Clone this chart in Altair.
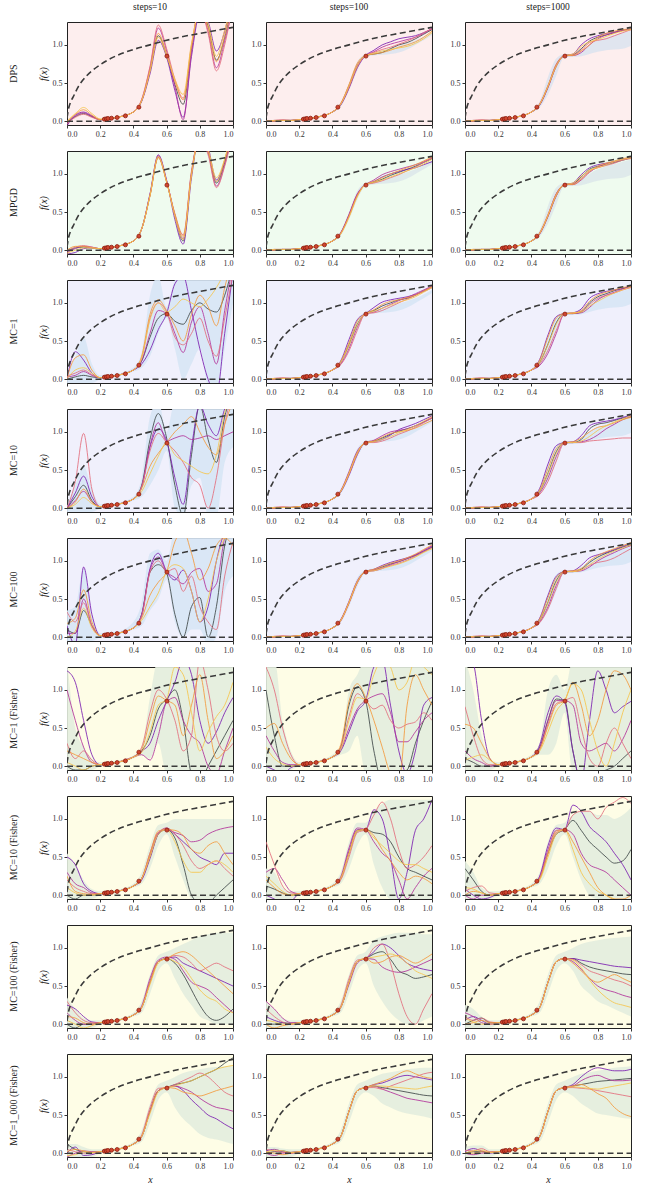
import altair as alt
import pandas as pd

FONT = "Liberation Serif"
W, H = 166, 103

# x positions at which every sample curve is read (values below are in hundredths)
X_GRID = [0, .05, .1, .15, .2, .3, .4, .45, .5, .55, .6, .65, .7, .75, .8, .85, .9, .95, 1.0]

OBS_X = [0.225, 0.237, 0.247, 0.268, 0.302, 0.352, 0.433, 0.602]
OBS_Y = [0.026, 0.031, 0.035, 0.039, 0.048, 0.07, 0.184, 0.853]

PRIOR_X = [0, .01, .02, .04, .07, .1, .15, .2, .3, .4, .5, .6, .7, .8, .9, 1.0]
PRIOR_Y = [0.04, 0.17, 0.24, 0.33, 0.46, 0.55, 0.66, 0.74, 0.86, 0.94, 1.0, 1.06, 1.11, 1.15, 1.19, 1.23]
ZERO_X = [0, 1]
ZERO_Y = [0, 0]

ROW_LABELS = ["DPS", "MPGD", "MC=1", "MC=10", "MC=100", "MC=1 (Fisher)",
              "MC=10 (Fisher)", "MC=100 (Fisher)", "MC=1_000 (Fisher)"]
COL_TITLES = ["steps=10", "steps=100", "steps=1000"]
ROW_BG = ["#fdeeee", "#effbef", "#f0f0fc", "#f0f0fc", "#f0f0fc",
          "#fefde6", "#fefde6", "#fefde6", "#fefde6"]
ROW_BAND = ["#dde3ee", "#dde8ea", "#d7e6f5", "#d7e6f5", "#d7e6f5",
            "#e3edde", "#e3edde", "#e3edde", "#e3edde"]
LINE_NAMES = ["L0", "L1", "L2", "L3", "L4", "L5"]
LINE_COLORS = ["#3f4848", "#7b1fb0", "#b2329a", "#e36d7d", "#f39a3d", "#f6c64e"]

# ---------------- sample curves (hundredths) ----------------
DPS_10 = [
    [-2, 6, 10, 6, 2, 5, 12, 27, 66, 112, 86, 48, 22, 95, 145, 125, 80, 110, 160],
    [-6, 8, 12, 7, 2, 5, 12, 26, 62, 106, 84, 40, 5, 85, 140, 130, 92, 118, 165],
    [-4, 7, 11, 6, 2, 5, 12, 28, 70, 122, 92, 45, 2, 90, 150, 118, 70, 105, 150],
    [-3, 5, 9, 5, 2, 5, 12, 29, 72, 126, 95, 55, 30, 100, 148, 115, 66, 100, 155],
    [-1, 9, 15, 8, 2, 5, 12, 27, 67, 115, 88, 52, 28, 98, 146, 122, 78, 112, 160],
    [0, 10, 18, 10, 3, 5, 12, 27, 65, 110, 86, 55, 35, 102, 144, 128, 85, 120, 162]]
DPS_100 = [
    [0, 0, 1, 1, 2, 5, 12, 22, 45, 72, 86, 88, 90, 95, 100, 103, 108, 114, 120],
    [0, 1, 1, 1, 2, 5, 12, 21, 43, 70, 86, 93, 100, 104, 108, 110, 112, 116, 121],
    [0, 0, 1, 1, 2, 5, 12, 23, 47, 74, 86, 91, 97, 101, 104, 107, 110, 115, 122],
    [0, 1, 2, 1, 2, 5, 12, 22, 44, 71, 86, 90, 94, 97, 101, 105, 110, 116, 121],
    [0, 0, 1, 1, 2, 5, 12, 23, 48, 76, 86, 88, 90, 93, 97, 100, 104, 110, 118],
    [0, 1, 1, 1, 2, 5, 12, 22, 46, 73, 86, 89, 92, 94, 96, 98, 102, 108, 116]]
DPS_1000 = [
    [0, 0, 1, 1, 2, 5, 12, 22, 46, 74, 86, 87, 95, 105, 110, 113, 116, 119, 121],
    [0, 1, 1, 1, 2, 5, 12, 21, 44, 72, 86, 88, 100, 108, 112, 115, 117, 119, 121],
    [0, 0, 1, 1, 2, 5, 12, 22, 45, 73, 86, 86, 90, 100, 108, 113, 116, 119, 120],
    [0, 1, 2, 1, 2, 5, 12, 23, 47, 75, 86, 87, 93, 103, 106, 108, 112, 116, 120],
    [0, 0, 1, 1, 2, 5, 12, 22, 45, 72, 86, 86, 92, 100, 110, 115, 118, 120, 121],
    [0, 1, 1, 1, 2, 5, 12, 22, 46, 73, 86, 88, 98, 104, 107, 111, 115, 118, 120]]
MPGD_10 = [
    [-2, 3, 4, 3, 2, 5, 12, 28, 72, 122, 90, 45, 12, 100, 150, 130, 88, 115, 160],
    [-5, -3, 2, 3, 2, 5, 12, 28, 74, 125, 92, 40, 8, 95, 152, 135, 92, 118, 165],
    [-3, 2, 5, 4, 2, 5, 12, 28, 73, 124, 91, 46, 15, 102, 150, 128, 84, 112, 158],
    [-1, 4, 6, 4, 2, 5, 12, 28, 72, 122, 90, 48, 20, 104, 148, 125, 82, 110, 155],
    [0, 5, 5, 3, 2, 5, 12, 28, 71, 121, 89, 47, 18, 100, 149, 130, 90, 118, 162],
    [-4, 0, 3, 3, 2, 5, 12, 28, 72, 123, 90, 44, 14, 98, 151, 132, 95, 120, 165]]
MPGD_100 = [
    [0, 0, 1, 1, 2, 5, 12, 22, 45, 72, 86, 89, 93, 98, 102, 106, 110, 115, 120],
    [0, 1, 1, 1, 2, 5, 12, 22, 46, 73, 86, 90, 96, 100, 103, 106, 108, 112, 116],
    [0, 0, 1, 1, 2, 5, 12, 23, 47, 74, 86, 92, 99, 103, 106, 109, 112, 116, 121],
    [0, 1, 1, 1, 2, 5, 12, 22, 44, 71, 86, 88, 91, 95, 99, 104, 109, 115, 121],
    [0, 0, 1, 1, 2, 5, 12, 22, 45, 72, 86, 90, 95, 100, 104, 108, 112, 117, 122],
    [0, 1, 1, 1, 2, 5, 12, 21, 43, 70, 86, 89, 92, 96, 100, 104, 108, 113, 119]]
MPGD_1000 = [
    [0, 0, 1, 1, 2, 5, 12, 22, 45, 72, 86, 87, 96, 106, 110, 112, 115, 118, 121],
    [0, 1, 1, 1, 2, 5, 12, 22, 46, 74, 86, 88, 99, 108, 112, 114, 116, 119, 122],
    [0, 0, 1, 1, 2, 5, 12, 21, 44, 71, 86, 86, 92, 102, 109, 113, 116, 119, 121],
    [0, 1, 1, 1, 2, 5, 12, 23, 47, 74, 86, 87, 94, 104, 108, 111, 114, 118, 120],
    [0, 0, 1, 1, 2, 5, 12, 22, 45, 73, 86, 86, 93, 103, 110, 114, 117, 120, 122],
    [0, 1, 1, 1, 2, 5, 12, 22, 46, 72, 86, 88, 97, 105, 108, 112, 116, 119, 121]]
MC1_10 = [
    [0, 3, 5, 3, 2, 5, 12, 24, 55, 80, 86, 76, 72, 90, 100, 92, 88, 110, 150],
    [0, 36, 25, 8, 2, 5, 12, 20, 38, 65, 86, 125, 135, 90, 40, 0, -20, 60, 140],
    [3, 5, 10, 5, 2, 5, 12, 24, 60, 90, 86, 60, 35, 75, 95, 60, 20, 90, 150],
    [4, 8, 12, 6, 2, 5, 12, 28, 80, 100, 88, 55, 45, 60, 80, 50, 30, 80, 140],
    [2, 28, 32, 12, 2, 5, 12, 30, 85, 104, 90, 70, 50, 85, 110, 95, 70, 120, 160],
    [0, 12, 15, 8, 2, 5, 12, 28, 78, 100, 88, 95, 105, 100, 95, 105, 120, 140, 160]]
MC1_100 = [
    [0, 0, 1, 1, 2, 5, 12, 22, 45, 72, 86, 90, 96, 100, 104, 106, 110, 116, 121],
    [0, 1, 1, 1, 2, 5, 12, 24, 52, 78, 86, 94, 101, 104, 106, 108, 111, 115, 120],
    [0, 0, 1, 1, 2, 5, 12, 20, 40, 68, 86, 88, 93, 98, 103, 107, 112, 117, 122],
    [0, 1, 2, 1, 2, 5, 12, 19, 37, 64, 86, 87, 90, 95, 100, 105, 110, 116, 121],
    [0, 0, 1, 1, 2, 5, 12, 23, 48, 76, 86, 91, 98, 102, 104, 107, 110, 115, 121],
    [0, 1, 1, 1, 2, 5, 12, 22, 44, 71, 86, 89, 93, 97, 101, 104, 108, 114, 120]]
MC1_1000 = [
    [0, 0, 1, 1, 2, 5, 12, 22, 46, 74, 86, 86, 88, 100, 108, 112, 116, 119, 122],
    [0, 1, 1, 1, 2, 5, 12, 26, 58, 82, 86, 87, 92, 106, 112, 115, 117, 119, 121],
    [0, 0, 1, 1, 2, 5, 12, 18, 34, 60, 86, 86, 87, 94, 104, 110, 114, 118, 121],
    [0, 1, 2, 1, 2, 5, 12, 20, 38, 64, 86, 87, 89, 98, 106, 110, 113, 117, 120],
    [0, 0, 1, 1, 2, 5, 12, 25, 55, 80, 86, 86, 90, 102, 110, 114, 117, 120, 122],
    [0, 1, 1, 1, 2, 5, 12, 22, 45, 72, 86, 87, 88, 96, 102, 108, 113, 117, 121]]
MC10_10 = [
    [0, 15, 30, 10, 2, 5, 12, 30, 90, 124, 92, 30, -10, 70, 135, 90, 60, 120, 150],
    [0, 20, 42, 15, 2, 5, 12, 28, 80, 104, 88, 40, 5, 80, 135, 110, 95, 130, 150],
    [0, 10, 22, 8, 2, 5, 12, 28, 82, 112, 88, 92, 95, 90, 92, 95, 90, 95, 100],
    [0, 35, 98, 25, 2, 5, 12, 28, 75, 98, 86, 75, 60, 40, 30, 0, 40, 110, 150],
    [0, 8, 25, 8, 2, 5, 12, 26, 55, 72, 86, 100, 110, 120, 100, 80, 70, 110, 140],
    [0, 5, 14, 6, 2, 5, 12, 22, 45, 68, 86, 70, 62, 55, 48, 45, 70, 125, 150]]
MC10_100 = [
    [0, 0, 1, 1, 2, 5, 12, 22, 46, 73, 86, 88, 92, 97, 101, 104, 108, 113, 118],
    [0, 1, 1, 1, 2, 5, 12, 21, 43, 70, 86, 87, 90, 96, 103, 107, 111, 116, 121],
    [0, 0, 1, 1, 2, 5, 12, 23, 48, 75, 86, 89, 95, 100, 102, 104, 108, 113, 119],
    [0, 1, 2, 1, 2, 5, 12, 22, 44, 71, 86, 86, 88, 92, 97, 101, 106, 112, 118],
    [0, 0, 1, 1, 2, 5, 12, 22, 45, 72, 86, 88, 93, 98, 100, 102, 105, 110, 115],
    [0, 1, 1, 1, 2, 5, 12, 22, 46, 73, 86, 87, 90, 94, 99, 103, 108, 114, 120]]
MC10_1000 = [
    [0, 0, 1, 1, 2, 5, 12, 22, 46, 74, 86, 86, 90, 104, 110, 112, 115, 118, 120],
    [0, 1, 1, 1, 2, 5, 12, 26, 58, 82, 86, 87, 95, 108, 112, 114, 116, 119, 122],
    [0, 0, 1, 1, 2, 5, 12, 20, 40, 68, 86, 86, 87, 90, 96, 104, 110, 116, 120],
    [0, 1, 2, 1, 2, 5, 12, 18, 35, 62, 86, 86, 86, 88, 89, 90, 91, 92, 92],
    [0, 0, 1, 1, 2, 5, 12, 24, 52, 78, 86, 87, 92, 100, 106, 108, 112, 116, 119],
    [0, 1, 1, 1, 2, 5, 12, 22, 45, 72, 86, 86, 88, 94, 102, 108, 113, 117, 121]]
MC100_10 = [
    [10, 5, 35, 15, 2, 5, 12, 30, 85, 95, 84, 30, 0, 40, 52, 0, 40, 120, 150],
    [15, -10, 92, 30, 2, 5, 12, 30, 90, 110, 86, 75, 88, 60, 20, 40, 100, 135, 140],
    [5, 5, 50, 15, 2, 5, 12, 28, 88, 105, 86, 78, 70, 85, 90, 60, 70, 130, 150],
    [33, 20, 45, 15, 2, 5, 12, 28, 85, 100, 86, 90, 60, 80, 40, 20, 10, 80, 125],
    [18, 25, 62, 20, 2, 5, 12, 25, 55, 72, 86, 125, 140, 110, 75, 90, 120, 130, 120],
    [0, 8, 38, 12, 2, 5, 12, 22, 40, 58, 86, 95, 90, 60, 20, 50, 100, 130, 140]]
MC100_100 = [
    [0, 0, 1, 1, 2, 5, 12, 22, 45, 72, 86, 88, 92, 96, 99, 103, 107, 112, 118],
    [0, 1, 1, 1, 2, 5, 12, 22, 46, 73, 86, 89, 94, 98, 101, 104, 108, 113, 119],
    [0, 0, 1, 1, 2, 5, 12, 23, 47, 74, 86, 87, 90, 95, 99, 103, 108, 114, 120],
    [0, 1, 2, 1, 2, 5, 12, 21, 44, 71, 86, 88, 91, 94, 97, 101, 106, 112, 117],
    [0, 0, 1, 1, 2, 5, 12, 22, 45, 72, 86, 89, 93, 97, 100, 104, 109, 115, 121],
    [0, 1, 1, 1, 2, 5, 12, 22, 46, 73, 86, 87, 90, 93, 96, 100, 105, 111, 116]]
MC100_1000 = [
    [0, 0, 1, 1, 2, 5, 12, 22, 46, 74, 86, 86, 89, 98, 105, 110, 114, 118, 121],
    [0, 1, 1, 1, 2, 5, 12, 25, 55, 80, 86, 87, 94, 104, 108, 111, 115, 119, 123],
    [0, 0, 1, 1, 2, 5, 12, 20, 40, 68, 86, 86, 87, 92, 100, 106, 111, 116, 120],
    [0, 1, 2, 1, 2, 5, 12, 19, 37, 64, 86, 86, 88, 94, 98, 100, 104, 110, 116],
    [0, 0, 1, 1, 2, 5, 12, 24, 52, 78, 86, 87, 90, 100, 107, 112, 116, 120, 124],
    [0, 1, 1, 1, 2, 5, 12, 22, 45, 72, 86, 86, 88, 95, 102, 108, 113, 117, 121]]
F1_10 = [
    [0, -5, -5, 0, 2, 5, 12, 20, 40, 75, 88, 100, 60, -10, -20, 0, 20, 40, 60],
    [125, 110, 60, 15, 2, 5, 12, 20, 30, 60, 85, 110, 140, 120, 60, 30, 45, 70, 90],
    [100, 60, 25, 5, 2, 5, 12, 15, 8, 40, 84, 90, 60, 40, 30, 0, -10, 20, 50],
    [30, 10, 20, 8, 2, 5, 12, 25, 70, 100, 88, 60, 20, 40, 140, 100, 40, 20, 30],
    [20, 15, 10, 5, 2, 5, 12, 22, 60, 92, 86, 80, 40, 80, 120, 60, 10, 20, 40],
    [5, 0, -5, 0, 2, 5, 12, 18, 45, 80, 88, 130, 120, 70, 20, 45, 65, 80, 110]]
F1_100 = [
    [100, 40, 0, 0, 2, 5, 12, 25, 80, 104, 86, 20, -20, -20, -10, -5, 30, 60, 85],
    [0, -5, -10, -2, 2, 5, 12, 20, 45, 72, 86, 130, 140, 80, 20, -10, 20, 80, 90],
    [40, 20, 5, 2, 2, 5, 12, 22, 50, 75, 86, 92, 95, 70, 32, 32, 45, 60, 70],
    [130, 100, 50, 15, 2, 5, 12, 25, 65, 95, 86, 75, 80, 60, 50, 55, 58, 70, 60],
    [50, 56, 30, 10, 2, 5, 12, 28, 85, 108, 90, 60, 25, -10, -20, 80, 120, 100, 80],
    [25, 10, 3, 0, 2, 5, 12, 22, 60, 90, 88, 120, 140, 130, 100, 110, 140, 130, 120]]
F1_1000 = [
    [10, 5, 0, 0, 2, 5, 12, 25, 60, 88, 86, 20, -20, -20, -10, -5, 0, 10, 20],
    [150, 135, 60, 10, 2, 5, 12, 28, 70, 92, 84, 20, -20, 60, 125, 100, 70, 78, 85],
    [20, 10, 5, 0, 2, 5, 12, 24, 60, 86, 86, 80, 30, 20, 25, 30, 20, 35, 60],
    [78, 40, 10, 2, 2, 5, 12, 22, 55, 82, 86, 90, 50, 10, 0, 30, 50, 30, 10],
    [55, 50, 30, 10, 2, 5, 12, 22, 52, 80, 86, 110, 80, 40, 60, 100, 125, 120, 100],
    [8, 12, 15, 8, 2, 5, 12, 20, 45, 72, 86, 108, 100, 60, 20, 0, 30, 70, 100]]
F10_10 = [
    [0, -5, 0, 0, 2, 5, 12, 22, 50, 80, 86, 75, 40, 0, -10, -10, 0, 10, 20],
    [50, 40, 15, 5, 2, 5, 12, 20, 48, 80, 88, 80, 70, 60, 50, 45, 40, 55, 55],
    [30, 15, 10, 3, 2, 5, 12, 22, 55, 82, 86, 82, 78, 70, 72, 80, 85, 88, 90],
    [20, 10, 5, 2, 2, 5, 12, 22, 52, 82, 88, 80, 65, 45, 35, 40, 45, 35, 25],
    [25, 5, 2, 1, 2, 5, 12, 22, 55, 84, 86, 85, 78, 60, 55, 65, 70, 55, 40],
    [10, 3, 0, 0, 2, 5, 12, 22, 50, 80, 86, 70, 45, 30, 30, 40, 45, 40, 30]]
F10_100 = [
    [12, 8, 3, 0, 2, 5, 12, 22, 55, 84, 86, 82, 80, 70, 50, 35, 30, 25, 20],
    [0, -5, -10, -8, 2, 5, 12, 22, 58, 86, 86, 112, 100, 50, -5, 30, 85, 100, 125],
    [30, 35, 20, 5, 2, 5, 12, 24, 62, 88, 86, 70, 55, 45, 20, -5, 10, 25, 35],
    [70, 40, 12, 3, 2, 5, 12, 20, 50, 82, 86, 105, 122, 100, 60, 35, 40, 50, 65],
    [20, 10, 2, 0, 2, 5, 12, 22, 55, 85, 86, 78, 60, 45, 30, 20, 25, 22, 15],
    [25, 15, 5, 0, 2, 5, 12, 22, 55, 84, 86, 75, 65, 55, 45, 40, 40, 35, 30]]
F10_1000 = [
    [35, 20, 5, 0, 2, 5, 12, 22, 55, 80, 86, 98, 85, 70, 60, 50, 42, 45, 60],
    [8, 0, -5, -3, 2, 5, 12, 25, 65, 88, 86, 118, 110, 90, 80, 70, 55, 40, 20],
    [0, -5, 0, 0, 2, 5, 12, 24, 60, 85, 86, 80, 55, 40, 35, 30, 20, 10, 0],
    [5, 10, 12, 3, 2, 5, 12, 22, 55, 82, 86, 105, 110, 110, 100, 115, 122, 128, 120],
    [0, 5, 3, 0, 2, 5, 12, 22, 55, 84, 86, 70, 50, 30, 10, 0, -5, -5, 0],
    [10, 8, 3, 0, 2, 5, 12, 20, 50, 80, 86, 60, 30, 15, 5, 0, -5, -10, -10]]
F100_10 = [
    [0, -5, 0, 0, 2, 5, 12, 22, 55, 82, 86, 80, 65, 45, 25, 10, 5, 10, 20],
    [25, 20, 10, 3, 2, 5, 12, 22, 55, 82, 86, 88, 80, 75, 70, 65, 60, 55, 50],
    [15, 5, 0, 0, 2, 5, 12, 24, 60, 84, 88, 85, 70, 55, 50, 45, 35, 25, 15],
    [30, 15, 5, 2, 2, 5, 12, 22, 55, 82, 86, 90, 88, 80, 70, 75, 80, 75, 70],
    [10, 8, 2, 0, 2, 5, 12, 22, 55, 82, 86, 92, 95, 90, 80, 70, 60, 50, 40],
    [5, 0, -5, -2, 2, 5, 12, 22, 52, 80, 86, 82, 75, 60, 45, 35, 30, 20, 15]]
F100_100 = [
    [0, 0, 2, 1, 2, 5, 12, 22, 55, 82, 86, 92, 95, 85, 70, 65, 60, 62, 65],
    [10, 5, 2, 0, 2, 5, 12, 22, 55, 82, 86, 95, 105, 100, 90, 80, 75, 72, 70],
    [30, 20, 8, 2, 2, 5, 12, 22, 52, 80, 86, 85, 75, 70, 68, 70, 75, 80, 85],
    [20, 10, 3, 0, 2, 5, 12, 24, 60, 84, 86, 100, 105, 80, 40, 10, 0, 20, 40],
    [0, -5, -2, 0, 2, 5, 12, 22, 55, 82, 86, 80, 82, 88, 90, 85, 80, 85, 92],
    [5, 3, 0, 0, 2, 5, 12, 22, 55, 82, 86, 88, 90, 92, 88, 80, 70, 65, 60]]
F100_1000 = [
    [0, 5, 8, 2, 2, 5, 12, 22, 55, 82, 86, 86, 80, 75, 72, 70, 68, 66, 65],
    [5, 10, 5, 0, 2, 5, 12, 22, 55, 82, 86, 86, 84, 82, 80, 78, 76, 75, 74],
    [15, 10, 2, 0, 2, 5, 12, 22, 55, 82, 86, 82, 72, 60, 50, 45, 42, 38, 35],
    [10, 5, 8, 3, 2, 5, 12, 22, 55, 82, 86, 85, 78, 70, 66, 62, 58, 55, 50],
    [0, 2, 5, 2, 2, 5, 12, 22, 55, 82, 86, 80, 70, 60, 55, 60, 65, 60, 55],
    [8, 3, 0, 0, 2, 5, 12, 22, 55, 82, 86, 84, 74, 58, 45, 35, 28, 25, 22]]
F1000_10 = [
    [12, 5, 2, 1, 2, 5, 12, 22, 55, 82, 86, 90, 92, 95, 100, 105, 110, 118, 125],
    [0, 8, -3, -2, 2, 5, 12, 22, 55, 82, 86, 88, 82, 70, 60, 50, 45, 38, 32],
    [-5, 0, 3, 2, 2, 5, 12, 22, 55, 82, 86, 88, 85, 80, 72, 65, 60, 58, 55],
    [5, 2, 0, 0, 2, 5, 12, 24, 60, 85, 86, 90, 95, 100, 105, 100, 90, 80, 75],
    [2, 5, 3, 1, 2, 5, 12, 22, 55, 82, 86, 85, 80, 78, 75, 78, 82, 85, 88],
    [-3, -2, 2, 1, 2, 5, 12, 22, 52, 80, 86, 88, 92, 95, 100, 105, 110, 113, 115]]
F1000_100 = [
    [0, 2, 3, 1, 2, 5, 12, 22, 55, 82, 86, 88, 86, 84, 82, 80, 78, 76, 75],
    [3, 5, 2, 0, 2, 5, 12, 22, 55, 82, 86, 90, 92, 96, 100, 102, 100, 98, 96],
    [0, -3, 0, 1, 2, 5, 12, 22, 55, 82, 86, 88, 84, 80, 76, 72, 70, 68, 66],
    [5, 3, 1, 0, 2, 5, 12, 22, 55, 82, 86, 86, 84, 88, 92, 96, 100, 104, 106],
    [2, 0, -2, 0, 2, 5, 12, 22, 55, 82, 86, 90, 94, 98, 104, 108, 104, 100, 98],
    [1, 4, 3, 1, 2, 5, 12, 22, 55, 82, 86, 88, 88, 87, 86, 85, 84, 86, 88]]
F1000_1000 = [
    [0, 2, 2, 1, 2, 5, 12, 22, 55, 82, 86, 88, 90, 92, 94, 95, 96, 97, 98],
    [2, 6, 3, 0, 2, 5, 12, 22, 55, 82, 86, 90, 100, 108, 112, 110, 108, 108, 110],
    [0, -2, 0, 1, 2, 5, 12, 22, 55, 82, 86, 88, 95, 100, 102, 98, 95, 95, 96],
    [4, 3, 6, 2, 2, 5, 12, 22, 55, 82, 86, 86, 85, 84, 82, 80, 78, 76, 74],
    [1, 0, 2, 1, 2, 5, 12, 22, 55, 82, 86, 88, 90, 85, 78, 72, 60, 52, 48],
    [0, 3, 4, 1, 2, 5, 12, 22, 55, 82, 86, 87, 86, 85, 84, 86, 88, 90, 92]]

# ---------------- uncertainty bands (hundredths): [low, high] ----------------
BAND_CONV_100 = [[-1, -1, 0, 0, 1, 4, 11, 19, 40, 66, 84, 86, 87, 88, 90, 94, 100, 106, 113],
                 [1, 1, 2, 2, 3, 6, 13, 24, 50, 78, 88, 90, 93, 96, 99, 102, 106, 111, 117]]
BAND_CONV_1000 = [[-1, -1, 0, 0, 1, 4, 11, 18, 35, 60, 84, 84, 85, 88, 91, 93, 94, 95, 99],
                  [1, 1, 2, 2, 3, 6, 13, 26, 58, 82, 88, 88, 92, 100, 106, 110, 113, 116, 119]]
BAND_MC1_10 = [[-5, -5, -5, -5, 0, 3, 10, 15, 30, 60, 80, 40, 0, 20, 40, -10, -20, 40, 100],
               [5, 30, 55, 20, 5, 7, 15, 35, 110, 135, 95, 130, 140, 140, 140, 140, 140, 150, 160]]
BAND_MC10_10 = [[-5, -5, -5, -5, 0, 3, 10, 15, 30, 50, 75, 0, -10, 30, 40, -10, -10, 60, 80],
                [5, 30, 55, 25, 5, 7, 15, 40, 120, 140, 100, 140, 140, 140, 140, 140, 140, 150, 150]]
BAND_MC100_10 = [[-5, -10, -5, -5, 0, 3, 10, 15, 35, 50, 75, 20, 0, 10, 10, -10, 0, 60, 80],
                 [35, 40, 90, 30, 5, 7, 20, 45, 110, 115, 100, 140, 140, 140, 140, 140, 140, 150, 150]]
BAND_F1_10 = [[-10, -10, -5, -5, 0, 3, 10, 15, 10, 30, -10, -10, -10, -10, -10, -10, -10, -10, -10],
              [140, 50, 25, 10, 5, 7, 14, 25, 90, 140, 140, 140, 140, 140, 140, 140, 140, 140, 140]]
BAND_F1_100 = [[-10, -10, -10, -5, 0, 3, 10, 15, 20, 40, -10, -10, -10, -10, -10, -10, -10, -10, -10],
               [140, 140, 60, 20, 5, 7, 15, 25, 100, 120, 140, 140, 140, 140, 140, 140, 140, 140, 140]]
BAND_F1_1000 = [[-10, -10, -5, -5, 0, 3, 10, 15, 15, 30, 70, -10, -10, -10, -10, -10, -10, -10, -10],
                [140, 100, 40, 10, 5, 7, 15, 30, 100, 120, 100, 140, 140, 140, 140, 140, 140, 140, 140]]
BAND_F10_10 = [[-5, -5, -5, -5, 0, 3, 10, 15, 35, 65, 80, 50, 20, -5, -10, -10, -10, -10, 0],
               [55, 40, 20, 8, 5, 7, 15, 30, 65, 92, 95, 100, 100, 100, 100, 100, 100, 100, 100]]
BAND_F10_100 = [[-5, -5, -5, -5, 0, 3, 10, 15, 35, 65, 80, 40, 10, -5, -5, -5, -5, -5, -5],
                [35, 30, 10, 5, 5, 7, 15, 30, 70, 95, 95, 110, 120, 125, 125, 125, 125, 125, 125]]
BAND_F10_1000 = [[-5, -5, -5, -5, 0, 3, 10, 15, 35, 65, 80, 50, 20, 0, -5, -5, -5, -5, -5],
                 [45, 30, 10, 5, 5, 7, 15, 30, 70, 92, 95, 105, 110, 110, 105, 105, 100, 105, 115]]
BAND_F100_10 = [[-5, -5, -5, -5, 0, 3, 10, 15, 40, 70, 80, 60, 40, 25, 10, 5, 0, 0, 0],
                [35, 20, 8, 5, 5, 7, 15, 30, 65, 90, 95, 100, 105, 110, 115, 118, 120, 120, 120]]
BAND_F100_100 = [[-5, -5, -5, -5, 0, 3, 10, 15, 40, 70, 80, 50, 30, 15, 5, 0, 0, 5, 10],
                 [30, 20, 8, 5, 5, 7, 15, 30, 65, 90, 95, 110, 115, 118, 120, 120, 120, 118, 118]]
BAND_F100_1000 = [[-5, -5, -5, -5, 0, 3, 10, 15, 40, 70, 80, 70, 50, 40, 30, 25, 20, 15, 10],
                  [25, 20, 10, 5, 5, 7, 15, 30, 65, 90, 95, 100, 105, 108, 110, 112, 113, 114, 115]]
BAND_F1000_10 = [[-5, -5, -5, -5, 0, 3, 10, 15, 40, 70, 80, 60, 45, 35, 25, 20, 18, 15, 12],
                 [12, 12, 8, 5, 5, 7, 15, 30, 65, 90, 95, 100, 105, 108, 110, 112, 113, 114, 115]]
BAND_F1000_100 = [[-5, -5, -5, -5, 0, 3, 10, 15, 40, 70, 80, 75, 65, 60, 55, 52, 50, 48, 45],
                  [8, 8, 6, 5, 5, 7, 15, 30, 65, 90, 95, 100, 104, 106, 108, 110, 111, 112, 112]]
BAND_F1000_1000 = [[-5, -5, -5, -5, 0, 3, 10, 15, 40, 70, 80, 75, 65, 58, 52, 50, 48, 46, 45],
                   [8, 10, 10, 5, 5, 7, 15, 30, 65, 90, 95, 100, 104, 106, 108, 110, 112, 113, 114]]

PANELS = [
    [(DPS_10, None), (DPS_100, BAND_CONV_100), (DPS_1000, BAND_CONV_1000)],
    [(MPGD_10, None), (MPGD_100, BAND_CONV_100), (MPGD_1000, BAND_CONV_1000)],
    [(MC1_10, BAND_MC1_10), (MC1_100, BAND_CONV_100), (MC1_1000, BAND_CONV_1000)],
    [(MC10_10, BAND_MC10_10), (MC10_100, BAND_CONV_100), (MC10_1000, BAND_CONV_1000)],
    [(MC100_10, BAND_MC100_10), (MC100_100, BAND_CONV_100), (MC100_1000, BAND_CONV_1000)],
    [(F1_10, BAND_F1_10), (F1_100, BAND_F1_100), (F1_1000, BAND_F1_1000)],
    [(F10_10, BAND_F10_10), (F10_100, BAND_F10_100), (F10_1000, BAND_F10_1000)],
    [(F100_10, BAND_F100_10), (F100_100, BAND_F100_100), (F100_1000, BAND_F100_1000)],
    [(F1000_10, BAND_F1000_10), (F1000_100, BAND_F1000_100), (F1000_1000, BAND_F1000_1000)],
]

prior_df = pd.DataFrame({"x": PRIOR_X, "y": PRIOR_Y})
zero_df = pd.DataFrame({"x": ZERO_X, "y": ZERO_Y})
obs_df = pd.DataFrame({"x": OBS_X, "y": OBS_Y})

XS = alt.Scale(domain=[0, 1], nice=False, zero=False)
YS = alt.Scale(domain=[-0.05, 1.3], nice=False, zero=False)


def panel(r, c):
    lines, band = PANELS[r][c]
    xt = "x" if r == len(ROW_LABELS) - 1 else None
    yt = "f(x)" if c == 0 else None
    xax = alt.Axis(values=[0, 0.2, 0.4, 0.6, 0.8, 1.0], format=".1f", titleFontStyle="italic")
    yax = alt.Axis(values=[0, 0.5, 1.0], format=".1f", titleFontStyle="italic")

    def X(f="x"):
        return alt.X(f"{f}:Q", scale=XS, axis=xax, title=xt)

    def Y(f="y"):
        return alt.Y(f"{f}:Q", scale=YS, axis=yax, title=yt)

    rows = []
    for k, ys in enumerate(lines):
        for x, y in zip(X_GRID, ys):
            rows.append({"x": x, "y": y / 100.0, "s": LINE_NAMES[k]})
    ldf = pd.DataFrame(rows)

    layers = []
    if band is not None:
        bdf = pd.DataFrame({"x": X_GRID, "lo": [v / 100.0 for v in band[0]],
                            "hi": [v / 100.0 for v in band[1]]})
        layers.append(alt.Chart(bdf).mark_area(clip=True, interpolate="monotone",
                                               color=ROW_BAND[r], opacity=0.9)
                      .encode(x=X(), y=Y("lo"), y2="hi:Q"))
    layers.append(alt.Chart(ldf).mark_line(clip=True, interpolate="monotone",
                                           strokeWidth=1.0, opacity=0.85)
                  .encode(x=X(), y=Y(),
                          color=alt.Color("s:N", scale=alt.Scale(domain=LINE_NAMES, range=LINE_COLORS),
                                          legend=None)))
    layers.append(alt.Chart(prior_df).mark_line(clip=True, interpolate="monotone", color="#3a3a3a",
                                                strokeDash=[6, 3.5], strokeWidth=1.6)
                  .encode(x=X(), y=Y()))
    layers.append(alt.Chart(zero_df).mark_line(clip=True, color="#3a3a3a",
                                               strokeDash=[6, 3.5], strokeWidth=1.6)
                  .encode(x=X(), y=Y()))
    layers.append(alt.Chart(obs_df).mark_point(filled=True, size=16, color="#d0452f",
                                               stroke="#8a1e10", strokeWidth=0.8, opacity=1)
                  .encode(x=X(), y=Y()))
    if c == 0:
        layers.append(alt.Chart(pd.DataFrame({"t": [ROW_LABELS[r]]}))
                      .mark_text(angle=270, font=FONT, fontSize=10, color="#222", baseline="middle")
                      .encode(x=alt.value(-53), y=alt.value(H / 2), text="t:N"))
    if r == 0:
        layers.append(alt.Chart(pd.DataFrame({"t": [COL_TITLES[c]]}))
                      .mark_text(font=FONT, fontSize=9.5, color="#222", baseline="middle")
                      .encode(x=alt.value(W / 2), y=alt.value(-15), text="t:N"))
    return alt.layer(*layers).properties(
        width=W, height=H,
        view=alt.ViewBackground(fill=ROW_BG[r], stroke="#222", strokeWidth=1))


rows_charts = [alt.hconcat(*[panel(r, c) for c in range(3)], spacing=16) for r in range(len(ROW_LABELS))]
chart = alt.vconcat(*rows_charts, spacing=11).properties(
    padding={"left": 8, "top": 1, "right": 2, "bottom": 2}
).configure_axis(
    labelFont=FONT, labelFontSize=8, labelColor="#333", tickColor="#333", tickSize=3,
    labelPadding=2, domain=False, grid=False, titleFont=FONT, titleFontSize=10,
    titleFontWeight="normal", titleColor="#222", titlePadding=4
).configure_view(stroke="#222")

chart.save("out.html", embed_options={"renderer": "svg", "actions": False})
